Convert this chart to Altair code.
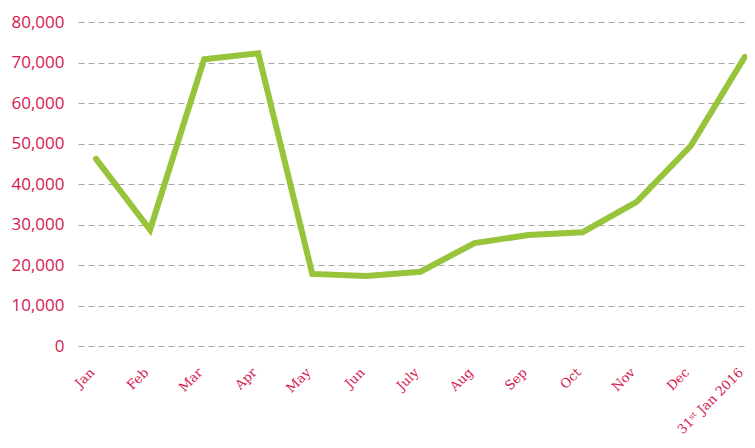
import json
import altair as alt
import pandas as pd

months = ["Jan", "Feb", "Mar", "Apr", "May", "Jun", "July", "Aug", "Sep",
          "Oct", "Nov", "Dec", "31ˢᵗ Jan 2016"]
values = [46200, 28700, 70800, 72300, 17800, 17300, 18350, 25400, 27400,
          28100, 35600, 49400, 71400]
y_ticks = [0, 10000, 20000, 30000, 40000, 50000, 60000, 70000, 80000]

df = pd.DataFrame({"idx": list(range(len(months))), "month": months, "value": values})

label_expr = json.dumps(months, ensure_ascii=False) + "[datum.value]"

RED = "#d6174f"

chart = alt.Chart(df).mark_line(
    color="#97c43a", strokeWidth=6, strokeCap="round", strokeJoin="miter"
).encode(
    x=alt.X("idx:Q",
            scale=alt.Scale(domain=[-0.333, 12.04], nice=False, zero=False),
            axis=alt.Axis(values=list(range(len(months))), labelExpr=label_expr,
                          title=None, grid=False, domain=False, ticks=False,
                          labelAngle=-45, labelAlign="right", labelBaseline="middle",
                          labelPadding=24, labelOffset=-4,
                          labelFont="DejaVu Serif", labelFontSize=13,
                          labelColor=RED, labelOverlap=False, labelBound=False,
                          labelFlush=False)),
    y=alt.Y("value:Q",
            scale=alt.Scale(domain=[0, 80000], nice=False),
            axis=alt.Axis(values=y_ticks, format=",.0f", title=None, domain=False,
                          ticks=False, grid=True, gridColor="#a6a6a6",
                          gridDash=[6, 4], gridWidth=1, labelPadding=14,
                          labelFont="Open Sans", labelFontSize=17, labelColor=RED)),
).properties(
    width=669, height=324,
    autosize=alt.AutoSizeParams(type="none"),
    padding={"left": 70, "top": 14, "right": 0, "bottom": 95},
    background="white",
).configure_view(stroke=None)

chart.save("out.html", embed_options={"renderer": "svg", "actions": False})
